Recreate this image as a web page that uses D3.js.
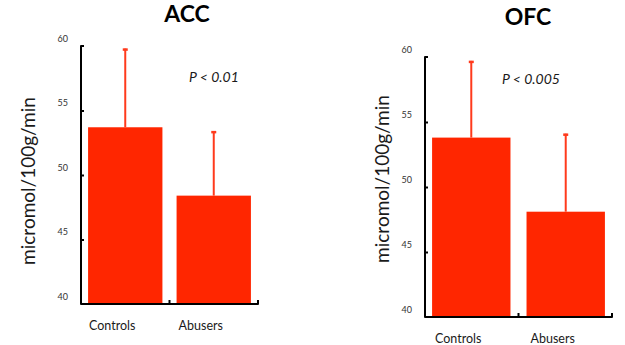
<!DOCTYPE html>
<html>
<head>
<meta charset="utf-8">
<script src="https://cdn.jsdelivr.net/npm/d3@7"></script>
<style>
  html, body { margin: 0; padding: 0; background: #fff; }
  svg { display: block; }
  text { font-family: Lato, "Open Sans", sans-serif; fill: #1a1a1a; }
</style>
</head>
<body>
<svg id="chart" width="625" height="345"></svg>
<script>
// ---- data ----
const categories = ["Controls", "Abusers"];
const yTicks = [40, 45, 50, 55, 60];
const accMeans = [53.7, 48.4];
const accSD = [6.1, 5.0];
const ofcMeans = [53.8, 48.1];
const ofcSD = [5.9, 6.0];
const titles = ["ACC", "OFC"];
const pLabels = ["P < 0.01", "P < 0.005"];
const yLabel = "micromol/100g/min";

// ---- layout ----
const panels = [
  { title: titles[0], p: pLabels[0], means: accMeans, sd: accSD,
    x0: 81, x1: 258, yTop: 46, yBot: 304, pi: 0.16, po: 0.08,
    titleX: 187, titleY: 22, pX: 189, pY: 82, labX: 35, labY: 181 },
  { title: titles[1], p: pLabels[1], means: ofcMeans, sd: ofcSD,
    x0: 425, x1: 612, yTop: 57, yBot: 317, pi: 0.17, po: 0.075,
    titleX: 528, titleY: 25, pX: 502, pY: 84, labX: 389, labY: 179 }
];

const svg = d3.select("#chart");
const barColor = "#ff2600";
const errColor = "#ff3a1c";

panels.forEach(P => {
  const g = svg.append("g");
  const y = d3.scaleLinear().domain([40, 60]).range([P.yBot, P.yTop]);
  const x = d3.scaleBand().domain(categories).range([P.x0, P.x1])
    .paddingInner(P.pi).paddingOuter(P.po);

  const rows = categories.map((c, i) => ({ c, m: P.means[i], s: P.sd[i] }));

  // bars
  g.selectAll("rect.bar").data(rows).join("rect")
    .attr("class", "bar")
    .attr("x", d => x(d.c))
    .attr("width", x.bandwidth())
    .attr("y", d => y(d.m))
    .attr("height", d => y(40) - y(d.m))
    .attr("fill", barColor);

  // error bars (upper only)
  g.selectAll("line.err").data(rows).join("line")
    .attr("class", "err")
    .attr("x1", d => x(d.c) + x.bandwidth() / 2)
    .attr("x2", d => x(d.c) + x.bandwidth() / 2)
    .attr("y1", d => y(d.m))
    .attr("y2", d => y(d.m + d.s))
    .attr("stroke", errColor).attr("stroke-width", 2);
  g.selectAll("line.cap").data(rows).join("line")
    .attr("class", "cap")
    .attr("x1", d => x(d.c) + x.bandwidth() / 2 - 2.5)
    .attr("x2", d => x(d.c) + x.bandwidth() / 2 + 2.5)
    .attr("y1", d => y(d.m + d.s) + 1)
    .attr("y2", d => y(d.m + d.s) + 1)
    .attr("stroke", errColor).attr("stroke-width", 2.5);

  // y axis ticks & labels
  const yAxis = d3.axisLeft(y).tickValues(yTicks).tickSize(-3).tickSizeOuter(0).tickPadding(13);
  const ya = g.append("g").attr("transform", `translate(${P.x0},0)`).call(yAxis);
  ya.select(".domain").remove();
  ya.selectAll(".tick line").attr("stroke", "#000").attr("stroke-width", 2);
  ya.selectAll(".tick text").attr("dy", "-0.55em")
    .style("font-size", "9px").style("fill", "#333");
  ya.selectAll(".tick").filter(d => d === 40 || d === 60).select("line").remove();

  // L-shaped axis frame
  g.append("path")
    .attr("d", `M${P.x0 + 3},${y(60)}H${P.x0}V${y(40)}H${P.x1}V${y(40) - 4}`)
    .attr("fill", "none").attr("stroke", "#000").attr("stroke-width", 2)
    .attr("stroke-linejoin", "round");
  // middle x tick
  const mid = x(categories[1]) - x.step() * x.paddingInner() / 2;
  g.append("line")
    .attr("x1", mid).attr("x2", mid)
    .attr("y1", y(40)).attr("y2", y(40) - 4)
    .attr("stroke", "#000").attr("stroke-width", 2);

  // x labels
  g.selectAll("text.xl").data(categories).join("text")
    .attr("class", "xl")
    .attr("x", d => x(d) + x.bandwidth() / 2 - 13)
    .attr("y", P.yBot + 26)
    .attr("text-anchor", "middle")
    .style("font-size", "12.5px")
    .text(d => d);

  // title
  g.append("text").attr("x", P.titleX).attr("y", P.titleY)
    .attr("text-anchor", "middle")
    .style("font-size", "23px").style("font-weight", "bold").style("fill", "#000")
    .text(P.title);

  // p value
  g.append("text").attr("x", P.pX).attr("y", P.pY)
    .style("font-size", "14px").style("font-style", "italic")
    .text(P.p);

  // y label
  g.append("text")
    .attr("transform", `translate(${P.labX},${P.labY}) rotate(-90)`)
    .attr("text-anchor", "middle")
    .style("font-size", "19px")
    .text(yLabel);
});
</script>
</body>
</html>
